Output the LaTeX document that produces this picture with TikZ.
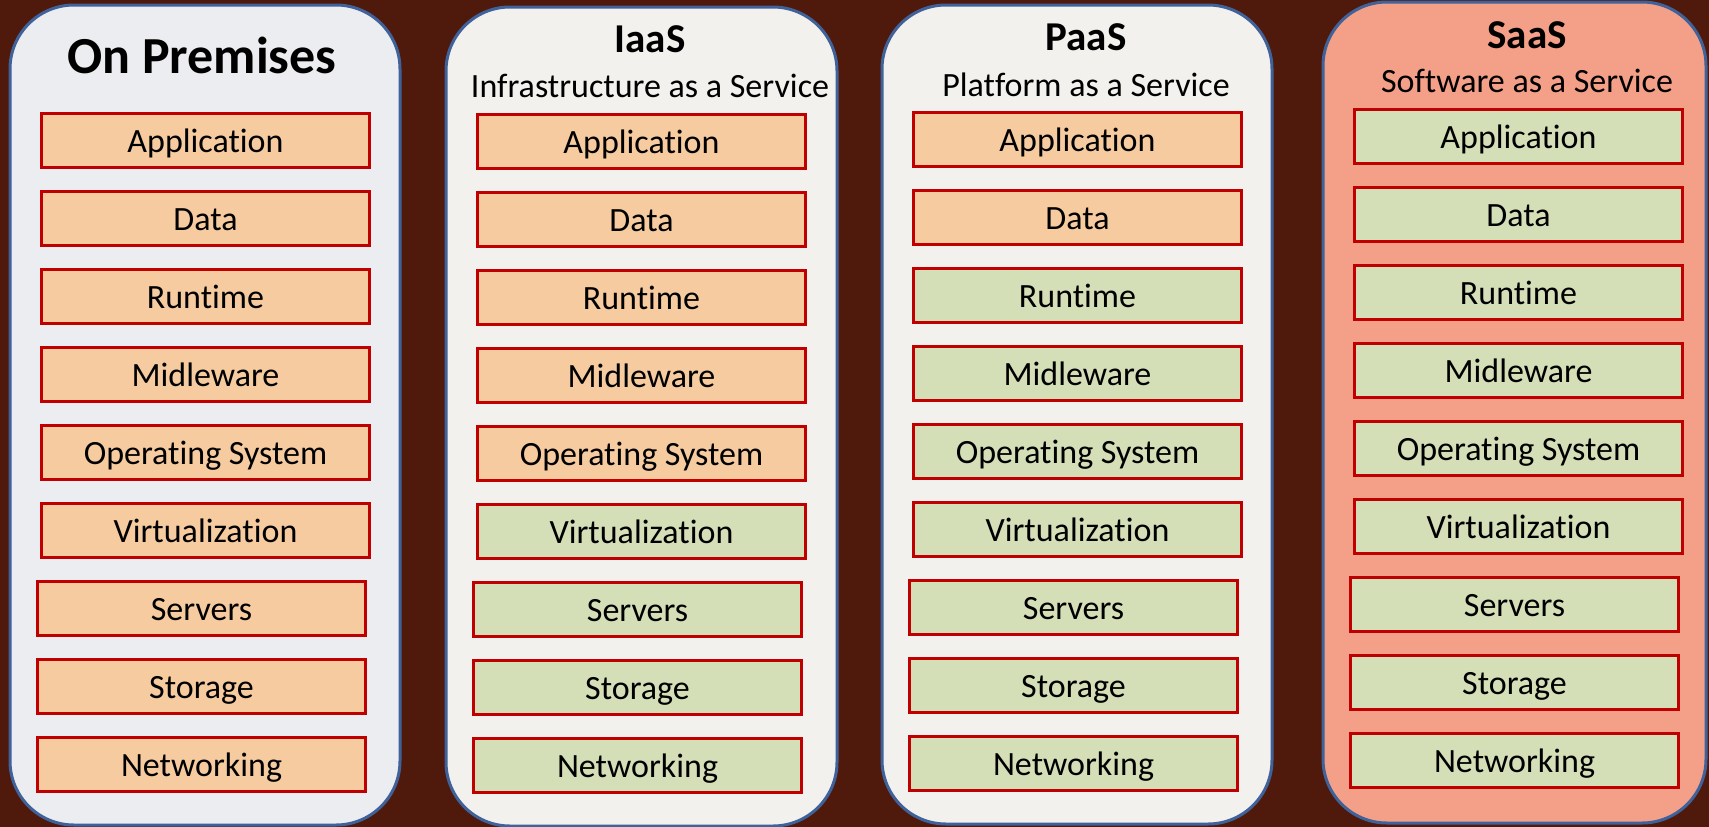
\documentclass[tikz,border=0pt]{standalone}
\usepackage{fontspec}
\setmainfont{Carlito}[Ligatures=NoCommon]
\definecolor{bg}{HTML}{4F190C}
\definecolor{panelblue}{HTML}{3F629B}
\definecolor{premfill}{HTML}{ECEDF0}
\definecolor{cloudfill}{HTML}{F2F1EE}
\definecolor{saasfill}{HTML}{F4A088}
\definecolor{own}{HTML}{F6CBA0}
\definecolor{prov}{HTML}{D4DEB7}
\definecolor{boxred}{HTML}{C00000}
\tikzset{
  panel/.style={draw=panelblue, line width=3pt, rounded corners=64pt},
  layer/.style={draw=boxred, line width=3.2pt, minimum width=328pt, minimum height=54pt,
    inner sep=0pt, text height=23pt, text depth=0pt,
    font=\fontsize{34}{40}\selectfont},
  coltitle/.style={anchor=base, inner sep=0pt, font=\fontsize{41}{48}\selectfont\bfseries},
  colsub/.style={anchor=base, inner sep=0pt, font=\fontsize{34}{40}\selectfont},
}
\begin{document}
\begin{tikzpicture}[x=1pt,y=-1pt]
  % background
  \fill[bg] (0,0) rectangle (1709,827);
  \useasboundingbox (0,0) rectangle (1709,827);

  % the four service-model panels
  \draw[panel, fill=premfill]  (10,5) rectangle (400,825);
  \draw[panel, fill=cloudfill] (446,7) rectangle (837,826);
  \draw[panel, fill=cloudfill] (882,5) rectangle (1272,824);
  \draw[panel, fill=saasfill]  (1323,2) rectangle (1706,823);

  % headings
  \node[coltitle, font=\fontsize{52}{60}\selectfont\bfseries] (t1) at (202,73) {On Premises};
  \node[coltitle] (t2) at (650,52) {IaaS};
  \node[colsub]   (s2) at (650,97) {Infrastructure as a Service};
  \node[coltitle] (t3) at (1086,50) {PaaS};
  \node[colsub]   (s3) at (1086,96) {Platform as a Service};
  \node[coltitle] (t4) at (1527,48) {SaaS};
  \node[colsub]   (s4) at (1527,92) {Software as a Service};

  % layer stacks: column / left edge (upper six) / left edge (lower three) / top / number of self-managed layers
  \foreach \c/\lx/\sx/\ty/\no in {1/40/36/112/9, 2/476/472/113/5, 3/912/908/111/2, 4/1353/1349/108/0} {
    \foreach \t [count=\i from 0] in {Application,Data,Runtime,Midleware,Operating System,Virtualization,Servers,Storage,Networking} {
      \pgfmathsetmacro\bx{ifthenelse(\i<6,\lx,\sx)+165.5}
      \pgfmathsetmacro\by{\ty+78*\i+28.5}
      \ifnum\i<\no \def\fc{own}\else\def\fc{prov}\fi
      \node[layer, fill=\fc] (c\c-\i) at (\bx,\by) {\t};
    }
  }
\end{tikzpicture}
\end{document}
